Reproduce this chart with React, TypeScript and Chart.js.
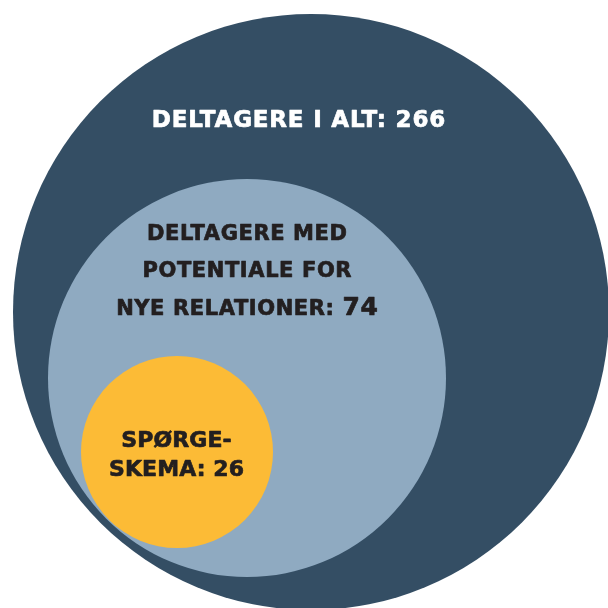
import React, { useEffect, useRef } from "react";
import { Chart, registerables } from "chart.js";

Chart.register(...registerables);

// Nested circles (data units on a 0..608 plane)
const groups = ["DELTAGERE I ALT", "DELTAGERE MED POTENTIALE FOR NYE RELATIONER", "SPØRGESKEMA"];
const counts = [266, 74, 26];
const circleX = [311, 247, 177];
const circleY = [312, 378, 452];
const circleR = [298, 199, 96];

// Label lines (count is appended to the last line)
const labelLines = [
  ["DELTAGERE I ALT: "],
  ["DELTAGERE MED", "POTENTIALE FOR", "NYE RELATIONER: "],
  ["SPØRGE-", "SKEMA: "],
];
const labelX = [298.5, 247, 176.5];
const labelBaselines = [[127], [240, 277, 315], [447, 476]];

const fillColors = ["#344e64", "#8faac1", "#fcbb36"];
const textColors = ["#ffffff", "#231f20", "#231f20"];
const fontSizes = [23, 21, 22];
const numberSizes = [23, 25, 22];
const letterSpacings = [0.8, 0.6, 0.1];
const FONT = '"DejaVu Sans", "Liberation Sans", sans-serif';

const labelPlugin = {
  id: "circleLabels",
  afterDatasetsDraw(chart: any) {
    const { ctx, scales } = chart;
    const xs = scales.x;
    const ys = scales.y;
    ctx.save();
    ctx.textBaseline = "alphabetic";
    ctx.lineJoin = "round";
    labelLines.forEach((lines, gi) => {
      const cx = xs.getPixelForValue(labelX[gi]);
      ctx.fillStyle = textColors[gi];
      ctx.strokeStyle = textColors[gi];
      ctx.lineWidth = 0.7;
      (ctx as any).letterSpacing = `${letterSpacings[gi]}px`;
      lines.forEach((line, li) => {
        const by = ys.getPixelForValue(labelBaselines[gi][li]);
        const isLast = li === lines.length - 1;
        const mainFont = `bold ${fontSizes[gi]}px ${FONT}`;
        const numFont = `bold ${numberSizes[gi]}px ${FONT}`;
        ctx.font = mainFont;
        const w1 = ctx.measureText(line).width;
        let w2 = 0;
        const num = isLast ? String(counts[gi]) : "";
        if (isLast) {
          ctx.font = numFont;
          w2 = ctx.measureText(num).width;
        }
        const start = cx - (w1 + w2 - letterSpacings[gi]) / 2;
        ctx.textAlign = "left";
        ctx.font = mainFont;
        ctx.fillText(line, start, by);
        ctx.strokeText(line, start, by);
        if (isLast) {
          ctx.font = numFont;
          ctx.fillText(num, start + w1, by);
          ctx.strokeText(num, start + w1, by);
        }
      });
    });
    ctx.restore();
  },
};

export default function App() {
  const ref = useRef<HTMLCanvasElement | null>(null);
  useEffect(() => {
    if (!ref.current) return;
    const radiusFn = (c: any) => {
      const raw = c.raw;
      const s = c.chart.scales.x;
      if (!raw || !s) return 0;
      return Math.abs(s.getPixelForValue(raw.rr) - s.getPixelForValue(0));
    };
    const chart = new Chart(ref.current, {
      type: "scatter",
      data: {
        datasets: [
          {
            label: "Deltagere",
            data: groups.map((g, i) => ({ x: circleX[i], y: circleY[i], rr: circleR[i], name: g })),
            pointBackgroundColor: fillColors,
            pointBorderWidth: 0,
            pointBorderColor: "rgba(0,0,0,0)",
            pointRadius: radiusFn,
            pointHoverRadius: radiusFn,
            clip: false as any,
          } as any,
        ],
      },
      options: {
        animation: false,
        responsive: true,
        maintainAspectRatio: false,
        events: [],
        layout: { padding: 0 },
        plugins: { legend: { display: false }, tooltip: { enabled: false } },
        scales: {
          x: { type: "linear", min: 0, max: 608, display: false },
          y: { type: "linear", min: 0, max: 608, reverse: true, display: false },
        },
      },
      plugins: [labelPlugin],
    });
    return () => chart.destroy();
  }, []);
  return (
    <div style={{ position: "fixed", left: 0, top: 0, width: 608, height: 608, background: "#ffffff" }}>
      <canvas ref={ref} />
    </div>
  );
}
